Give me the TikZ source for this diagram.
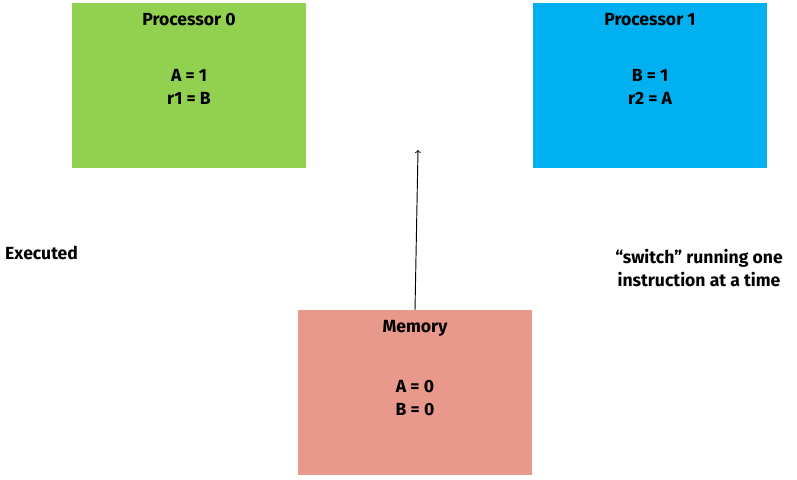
\documentclass[tikz,border=0pt]{standalone}
\usepackage{fontspec}
\setmainfont{Fira Sans}
\usetikzlibrary{positioning}
\definecolor{procgreen}{RGB}{146,208,80}
\definecolor{procblue}{RGB}{0,176,240}
\definecolor{memred}{RGB}{233,153,140}
\begin{document}
\begin{tikzpicture}
[
x=0.03cm, y=-0.03cm,
box-a/.style={rectangle, minimum width = 7.02cm, minimum height = 4.95cm, inner sep = 0pt},
text-a/.style={font=\bfseries\fontsize{15}{20}\selectfont, align=center, inner sep = 0pt}
]
\useasboundingbox (0,0) rectangle (797,479);

\node (proc-0)      [box-a, fill=procgreen] at (189,85.5)  {};
\node (proc-0-name) [text-a, below = 0.3cm of proc-0.north] {Processor 0};
\node (proc-0-code) [text-a, below = 1.3cm of proc-0-name]  {A = 1\\r1 = B};
\node (proc-1)      [box-a, fill=procblue]  at (650,85.5)  {};
\node (proc-1-name) [text-a, below = 0.3cm of proc-1.north] {Processor 1};
\node (proc-1-code) [text-a, below = 1.3cm of proc-1-name]  {B = 1\\r2 = A};
\node (mem)         [box-a, fill=memred]    at (415,392.5) {};
\node (mem-name)    [text-a, below = 0.3cm of mem.north]    {Memory};
\node (mem-code)    [text-a, below = 1.3cm of mem-name]     {A = 0\\B = 0};
\node (executed)    [text-a, anchor=west] at (5,253) {Executed};
\node (switch)      [text-a] at (699,268) {“switch” running one\\instruction at a time};
\coordinate (top) at (418,150);

\draw [->, thick] (mem.north) -- (top);

\end{tikzpicture}
\end{document}
